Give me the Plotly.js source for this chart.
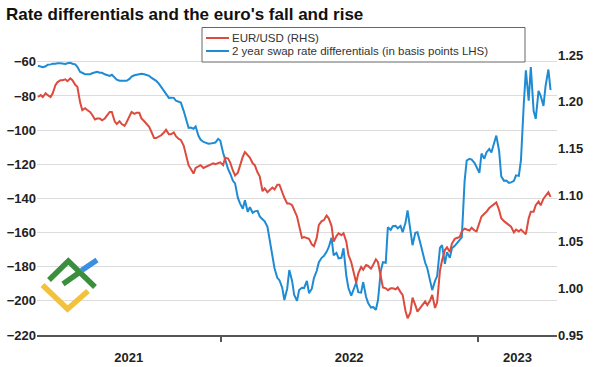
<!DOCTYPE html>
<html>
<head>
<meta charset="utf-8">
<script src="https://cdn.plot.ly/plotly-3.0.1.min.js"></script>
<style>
html,body{margin:0;padding:0;background:#fff;}
#chart{width:598px;height:367px;}
</style>
</head>
<body>
<div id="chart"></div>
<script>
// Observation dates (Friday and Tuesday readings)
const fridayDates = [
"2021-04-16","2021-04-23","2021-04-30","2021-05-07","2021-05-14","2021-05-21","2021-05-28",
"2021-06-04","2021-06-11","2021-06-18","2021-06-25","2021-07-02","2021-07-09","2021-07-16",
"2021-07-23","2021-07-30","2021-08-06","2021-08-13","2021-08-20","2021-08-27","2021-09-03",
"2021-09-10","2021-09-17","2021-09-24","2021-10-01","2021-10-08","2021-10-15","2021-10-22",
"2021-10-29","2021-11-05","2021-11-12","2021-11-19","2021-11-26","2021-12-03","2021-12-10",
"2021-12-17","2021-12-24","2021-12-31","2022-01-07","2022-01-14","2022-01-21","2022-01-28",
"2022-02-04","2022-02-11","2022-02-18","2022-02-25","2022-03-04","2022-03-11","2022-03-18",
"2022-03-25","2022-04-01","2022-04-08","2022-04-15","2022-04-22","2022-04-29","2022-05-06",
"2022-05-13","2022-05-20","2022-05-27","2022-06-03","2022-06-10","2022-06-17","2022-06-24",
"2022-07-01","2022-07-08","2022-07-15","2022-07-22","2022-07-29","2022-08-05","2022-08-12",
"2022-08-19","2022-08-26","2022-09-02","2022-09-09","2022-09-16","2022-09-23","2022-09-30",
"2022-10-07","2022-10-14","2022-10-21","2022-10-28","2022-11-04","2022-11-11","2022-11-18",
"2022-11-25","2022-12-02","2022-12-09","2022-12-16","2022-12-23","2022-12-30","2023-01-06",
"2023-01-13","2023-01-20","2023-01-27","2023-02-03","2023-02-10","2023-02-17","2023-02-24",
"2023-03-03","2023-03-10","2023-03-17","2023-03-24","2023-03-31","2023-04-07","2023-04-14"
];
const tuesdayDates = [
"2021-04-20","2021-04-27","2021-05-04","2021-05-11","2021-05-18","2021-05-25","2021-06-01",
"2021-06-08","2021-06-15","2021-06-22","2021-06-29","2021-07-06","2021-07-13","2021-07-20",
"2021-07-27","2021-08-03","2021-08-10","2021-08-17","2021-08-24","2021-08-31","2021-09-07",
"2021-09-14","2021-09-21","2021-09-28","2021-10-05","2021-10-12","2021-10-19","2021-10-26",
"2021-11-02","2021-11-09","2021-11-16","2021-11-23","2021-11-30","2021-12-07","2021-12-14",
"2021-12-21","2021-12-28","2022-01-04","2022-01-11","2022-01-18","2022-01-25","2022-02-01",
"2022-02-08","2022-02-15","2022-02-22","2022-03-01","2022-03-08","2022-03-15","2022-03-22",
"2022-03-29","2022-04-05","2022-04-12","2022-04-19","2022-04-26","2022-05-03","2022-05-10",
"2022-05-17","2022-05-24","2022-05-31","2022-06-07","2022-06-14","2022-06-21","2022-06-28",
"2022-07-05","2022-07-12","2022-07-19","2022-07-26","2022-08-02","2022-08-09","2022-08-16",
"2022-08-23","2022-08-30","2022-09-06","2022-09-13","2022-09-20","2022-09-27","2022-10-04",
"2022-10-11","2022-10-18","2022-10-25","2022-11-01","2022-11-08","2022-11-15","2022-11-22",
"2022-11-29","2022-12-06","2022-12-13","2022-12-20","2022-12-27","2023-01-03","2023-01-10",
"2023-01-17","2023-01-24","2023-01-31","2023-02-07","2023-02-14","2023-02-21","2023-02-28",
"2023-03-07","2023-03-14","2023-03-21","2023-03-28","2023-04-04","2023-04-11"
];

// EUR/USD (right axis)
const eurusdFri = [
1.205,1.205,1.207,1.209,1.221,1.223,1.222,1.223,1.216,1.191,
1.191,1.186,1.182,1.180,1.185,1.189,1.176,1.176,1.178,1.189,
1.188,1.182,1.176,1.168,1.161,1.164,1.170,1.165,1.163,1.159,
1.143,1.128,1.129,1.132,1.130,1.132,1.133,1.135,1.140,1.135,
1.121,1.132,1.146,1.140,1.132,1.120,1.107,1.105,1.106,1.111,
1.097,1.091,1.084,1.067,1.055,1.053,1.045,1.068,1.073,1.075,
1.050,1.059,1.059,1.036,1.017,1.016,1.020,1.024,1.025,1.028,
1.001,0.998,1.000,1.001,0.993,0.968,0.990,0.975,0.982,0.982,
0.993,0.985,1.030,1.044,1.048,1.054,1.061,1.063,1.065,1.061,
1.077,1.082,1.088,1.092,1.075,1.070,1.066,1.063,1.063,1.058,
1.082,1.089,1.089,1.099,1.098
];
const eurusdTue = [
1.207,1.209,1.205,1.218,1.223,1.224,1.225,1.218,1.199,1.193,
1.189,1.181,1.182,1.182,1.189,1.179,1.179,1.174,1.184,1.187,
1.188,1.179,1.173,1.161,1.163,1.167,1.165,1.167,1.160,1.153,
1.132,1.123,1.131,1.129,1.131,1.134,1.134,1.132,1.139,1.126,
1.124,1.141,1.143,1.134,1.124,1.104,1.103,1.108,1.111,1.102,
1.091,1.089,1.077,1.054,1.054,1.047,1.054,1.072,1.078,1.067,
1.056,1.057,1.050,1.028,1.006,1.023,1.025,1.021,1.031,1.012,
1.000,1.000,0.999,0.996,0.976,0.974,0.982,0.979,0.986,0.987,
0.979,1.019,1.041,1.039,1.053,1.055,1.064,1.062,1.062,1.071,
1.080,1.086,1.090,1.084,1.072,1.068,1.060,1.061,1.060,1.075,
1.082,1.093,1.096,1.103
];

// 2 year swap rate differentials, basis points (left axis)
const swapFri = [
-62.3,-63.2,-61.7,-61.1,-60.8,-61.1,-60.8,-61.1,-62.9,-66.4,
-67.3,-66.7,-65.8,-66.4,-67.6,-67.6,-70.5,-71.1,-71.1,-68.7,
-67.6,-67.0,-67.6,-69.3,-71.1,-74.6,-78.7,-81.0,-82.8,-83.9,
-93.3,-98.5,-97.9,-105.5,-107.3,-107.9,-107.3,-106.1,-117.8,-125.4,
-131.2,-142.9,-141.1,-145.2,-147.6,-150.5,-153.4,-164.5,-180.9,-187.9,
-199.5,-182.0,-196.6,-193.7,-192.5,-195.5,-186.7,-177.4,-173.8,-168.6,
-173.3,-175.1,-169.2,-192.5,-193.7,-194.9,-189.0,-201.3,-203.6,-199.5,
-177.4,-156.9,-156.3,-157.5,-159.8,-147.0,-167.4,-159.8,-171.5,-180.9,
-193.7,-185.5,-167.4,-171.5,-169.2,-166.3,-162.8,-117.8,-117.2,-121.9,
-113.7,-113.1,-113.1,-103.2,-127.1,-129.5,-130.6,-126.5,-117.8,-65.0,
-63.0,-93.4,-79.9,-74.1,-76.5
];
const swapTue = [
-62.9,-62.6,-61.5,-61.1,-60.9,-61.2,-60.6,-61.5,-65.9,-67.3,
-67.3,-66.2,-66.4,-67.3,-68.2,-69.4,-71.1,-71.1,-70.0,-67.9,
-67.0,-67.3,-68.2,-70.5,-72.9,-77.0,-81.1,-81.1,-83.4,-88.7,
-98.7,-99.2,-103.3,-106.9,-108.0,-107.4,-105.1,-113.3,-122.7,-129.7,
-139.7,-146.1,-147.9,-148.4,-147.3,-152.5,-156.6,-174.2,-186.5,-192.3,
-192.9,-188.3,-200.0,-192.3,-188.3,-192.9,-182.4,-174.8,-171.3,-163.1,
-171.9,-174.8,-185.3,-197.0,-189.4,-195.2,-197.6,-204.0,-205.2,-182.4,
-177.7,-158.4,-156.1,-156.1,-154.3,-157.8,-160.2,-166.0,-177.7,-188.3,
-188.3,-169.0,-178.3,-174.8,-167.8,-164.8,-129.7,-116.8,-119.1,-125.0,
-116.8,-111.0,-108.0,-112.1,-129.7,-130.9,-129.7,-126.8,-85.0,-82.8,
-88.7,-77.0,-85.8,-64.5
];

const leftTicks = [-220,-200,-180,-160,-140,-120,-100,-80,-60];
const rightTicks = [0.95,1.00,1.05,1.10,1.15,1.20,1.25];
const yearLabels = ["2021","2022","2023"];
const yearLabelPos = ["2021-08-23","2022-07-02","2023-02-26"];
const yearBoundaries = ["2022-01-01","2023-01-01"];
const legendNames = ["EUR/USD (RHS)","2 year swap rate differentials (in basis points LHS)"];
const titleText = "Rate differentials and the euro's fall and rise";

// merge the two reading days into one chronological series
const xs = [], eu = [], sw = [];
for (let i = 0; i < fridayDates.length; i++) {
  xs.push(fridayDates[i]); eu.push(eurusdFri[i]); sw.push(swapFri[i]);
  if (i < tuesdayDates.length) { xs.push(tuesdayDates[i]); eu.push(eurusdTue[i]); sw.push(swapTue[i]); }
}

const RED = "#dd4b3e", BLUE = "#1f8bd3";
const FONT = "Liberation Sans, Arial, sans-serif";

const traces = [
  {x: xs, y: eu, yaxis: "y2", type: "scatter", mode: "lines",
   line: {color: RED, width: 2}, name: legendNames[0], hoverinfo: "skip"},
  {x: xs, y: sw, yaxis: "y", type: "scatter", mode: "lines",
   line: {color: BLUE, width: 2}, name: legendNames[1], hoverinfo: "skip"}
];

function px(x){ return (x-37)/520; }
function py(y){ return (335-y)/280; }
function path(pts){ return pts.map((p,i)=>(i?"L":"M")+px(p[0]).toFixed(4)+","+py(p[1]).toFixed(4)).join(" "); }

const shapes = [
  // legend box
  {type:"rect", xref:"paper", yref:"paper", x0:px(202), x1:px(525), y0:py(62), y1:py(27.5),
   line:{color:"#666", width:1}, fillcolor:"#fff", layer:"above"},
  {type:"line", xref:"paper", yref:"paper", x0:px(206), x1:px(229), y0:py(38), y1:py(38),
   line:{color:RED, width:2}},
  {type:"line", xref:"paper", yref:"paper", x0:px(206), x1:px(229), y0:py(51), y1:py(51),
   line:{color:BLUE, width:2}},
  // logo
  {type:"path", xref:"paper", yref:"paper", path:path([[42.5,285],[67.5,309],[88,291]]),
   line:{color:"#f2c23a", width:5.5}, layer:"above"},
  {type:"path", xref:"paper", yref:"paper", path:path([[49,280],[68.3,261],[95,287]]),
   line:{color:"#3a8e3c", width:5.5}, layer:"above"},
  {type:"path", xref:"paper", yref:"paper", path:path([[63,284],[80,272]]),
   line:{color:"#3a8e3c", width:5.5}, layer:"above"},
  {type:"path", xref:"paper", yref:"paper", path:path([[81.5,270.5],[97,260]]),
   line:{color:"#3b8fe0", width:5.5}, layer:"above"}
];

const annotations = [
  {xref:"paper", yref:"paper", x:px(231), y:py(38), xanchor:"left", yanchor:"middle",
   text:legendNames[0], showarrow:false, borderpad:0, font:{family:FONT, size:11.5, color:"#333"}},
  {xref:"paper", yref:"paper", x:px(231), y:py(51), xanchor:"left", yanchor:"middle",
   text:legendNames[1], showarrow:false, borderpad:0, font:{family:FONT, size:11.5, color:"#333"}}
];

const tickFont = {family:FONT, size:13, color:"#222", weight:"bold"};

const layout = {
  width:598, height:367,
  margin:{l:37, r:41, t:55, b:32, pad:0},
  paper_bgcolor:"#fff", plot_bgcolor:"#fff",
  showlegend:false,
  title:{text:titleText, xref:"container", yref:"container", x:0.01, xanchor:"left",
         y:0.962, yanchor:"middle", font:{family:FONT, size:17, color:"#111", weight:"bold"}},
  xaxis:{type:"date", range:["2021-04-14 17:00","2023-04-23 05:00"],
         showgrid:false, zeroline:false, showline:true, linecolor:"#555", linewidth:1.5,
         ticks:"", tickmode:"array", tickvals:yearLabelPos, ticktext:yearLabels,
         tickfont:tickFont, ticklabelstandoff:10,
         minor:{tickmode:"array", tickvals:yearBoundaries, ticks:"outside", ticklen:5,
                tickcolor:"#555", tickwidth:1.5, showgrid:false},
         fixedrange:true},
  yaxis:{range:[-220,-56], tickmode:"array", tickvals:leftTicks, showgrid:true,
         gridcolor:"#dcdcdc", gridwidth:1, zeroline:false, showline:false, ticks:"",
         tickfont:tickFont, fixedrange:true},
  yaxis2:{range:[0.95,1.25], overlaying:"y", side:"right", tickmode:"array",
          tickvals:rightTicks, tickformat:".2f", showgrid:false, zeroline:false,
          showline:false, ticks:"", tickfont:tickFont, fixedrange:true},
  shapes:shapes, annotations:annotations
};

Plotly.newPlot("chart", traces, layout, {displayModeBar:false, staticPlot:true});
</script>
</body>
</html>
